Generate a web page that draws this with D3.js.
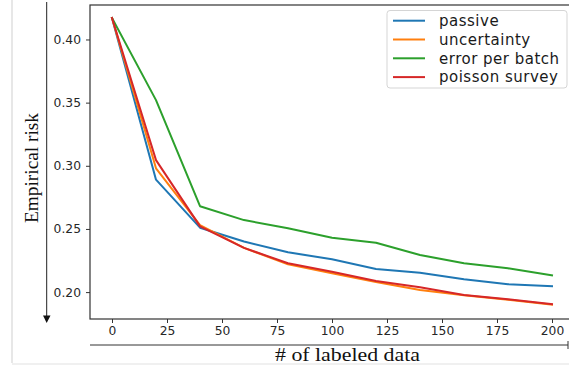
<!DOCTYPE html>
<html>
<head>
<meta charset="utf-8">
<script src="https://cdn.jsdelivr.net/npm/d3@7"></script>
<style>
  html, body { margin: 0; padding: 0; background: #fff; }
  svg { display: block; }
</style>
</head>
<body>
<svg id="chart" width="569" height="370"></svg>
<script>
const xValues = [0, 20, 40, 60, 80, 100, 120, 140, 160, 180, 200];
const passive = [0.417, 0.289, 0.251, 0.240, 0.2315, 0.226, 0.2183, 0.2153, 0.2101, 0.2062, 0.2046];
const uncertainty = [0.417, 0.298, 0.253, 0.235, 0.222, 0.215, 0.208, 0.2017, 0.1975, 0.194, 0.190];
const errorPerBatch = [0.417, 0.352, 0.268, 0.257, 0.2505, 0.243, 0.2391, 0.2294, 0.2228, 0.2188, 0.2133];
const poissonSurvey = [0.417, 0.3045, 0.252, 0.235, 0.2228, 0.2161, 0.2088, 0.2038, 0.1977, 0.1943, 0.1904];
const seriesNames = ["passive", "uncertainty", "error per batch", "poisson survey"];
const seriesColors = ["#1f77b4", "#ff7f0e", "#2ca02c", "#d62728"];
const xTicks = [0, 25, 50, 75, 100, 125, 150, 175, 200];
const yTicks = [0.20, 0.25, 0.30, 0.35, 0.40];
const xLabel = "# of labeled data";
const yLabel = "Empirical risk";

const seriesData = [passive, uncertainty, errorPerBatch, poissonSurvey];

const svg = d3.select("#chart");
const pLeft = 90, pRight = 574, pTop = 5, pBottom = 319;

const x = d3.scaleLinear().domain([-10, 210]).range([pLeft, pRight]);
const y = d3.scaleLinear().domain([0.1787, 0.4273]).range([pBottom, pTop]);

// faint page border lines
svg.append("line").attr("x1", 12).attr("x2", 12).attr("y1", 0).attr("y2", 363)
  .attr("stroke", "#cfcfcf").attr("stroke-width", 1);
svg.append("line").attr("x1", 12).attr("x2", 569).attr("y1", 364).attr("y2", 364)
  .attr("stroke", "#f0f0f0").attr("stroke-width", 2);

// lines
const line = d3.line().x((d, i) => x(xValues[i])).y(d => y(d));
const plot = svg.append("g");
seriesData.forEach((s, k) => {
  plot.append("path").datum(s)
    .attr("d", line)
    .attr("fill", "none")
    .attr("stroke", seriesColors[k])
    .attr("stroke-width", 2)
    .attr("stroke-linejoin", "round")
    .attr("stroke-linecap", "square");
});

// frame
svg.append("rect").attr("x", pLeft).attr("y", pTop)
  .attr("width", pRight - pLeft).attr("height", pBottom - pTop)
  .attr("fill", "none").attr("stroke", "#333").attr("stroke-width", 1.2);

// axes
const xAxis = svg.append("g").attr("transform", `translate(0,${pBottom})`)
  .call(d3.axisBottom(x).tickValues(xTicks).tickSize(4).tickPadding(3).tickFormat(d3.format("d")));
xAxis.select(".domain").remove();
xAxis.selectAll("line").attr("stroke", "#333");
xAxis.selectAll("text").attr("font-family", "DejaVu Sans").attr("font-size", 12.3).attr("fill", "#262626");

const yAxis = svg.append("g").attr("transform", `translate(${pLeft},0)`)
  .call(d3.axisLeft(y).tickValues(yTicks).tickSize(4).tickPadding(5).tickFormat(d3.format(".2f")));
yAxis.select(".domain").remove();
yAxis.selectAll("line").attr("stroke", "#333");
yAxis.selectAll("text").attr("font-family", "DejaVu Sans").attr("font-size", 12.3).attr("fill", "#262626");

// legend
const lg = svg.append("g");
lg.append("rect").attr("x", 387).attr("y", 10.5).attr("width", 180).attr("height", 77.5)
  .attr("rx", 3).attr("fill", "#fff").attr("fill-opacity", 0.85)
  .attr("stroke", "#d5d5d5").attr("stroke-width", 1);
seriesNames.forEach((n, k) => {
  const cy = 20.7 + k * 18.8;
  lg.append("line").attr("x1", 393).attr("x2", 425).attr("y1", cy).attr("y2", cy)
    .attr("stroke", seriesColors[k]).attr("stroke-width", 2);
  lg.append("text").attr("x", 439).attr("y", cy).attr("dy", "0.35em")
    .attr("font-family", "DejaVu Sans").attr("font-size", 15).attr("fill", "#1a1a1a")
    .attr("letter-spacing", 0.5)
    .text(n);
});

// y annotation arrow
svg.append("line").attr("x1", 46.7).attr("x2", 46.7).attr("y1", 2).attr("y2", 317)
  .attr("stroke", "#222").attr("stroke-width", 1);
svg.append("path").attr("d", "M43,315.5 L50.5,315.5 L46.7,323 Z").attr("fill", "#111");
svg.append("text")
  .attr("transform", "translate(37.5,168) rotate(-90)")
  .attr("text-anchor", "middle")
  .attr("font-family", "Liberation Serif").attr("font-size", 19).attr("fill", "#111")
  .attr("textLength", 110).attr("lengthAdjust", "spacingAndGlyphs")
  .text(yLabel);

// x annotation line
svg.append("line").attr("x1", 90).attr("x2", 568).attr("y1", 345).attr("y2", 345)
  .attr("stroke", "#333").attr("stroke-width", 1);
svg.append("line").attr("x1", 568).attr("x2", 568).attr("y1", 341).attr("y2", 349)
  .attr("stroke", "#333").attr("stroke-width", 1);
svg.append("text").attr("x", 347.5).attr("y", 361)
  .attr("text-anchor", "middle")
  .attr("font-family", "Liberation Serif").attr("font-size", 19).attr("fill", "#111")
  .attr("textLength", 145).attr("lengthAdjust", "spacingAndGlyphs")
  .text(xLabel);
</script>
</body>
</html>
